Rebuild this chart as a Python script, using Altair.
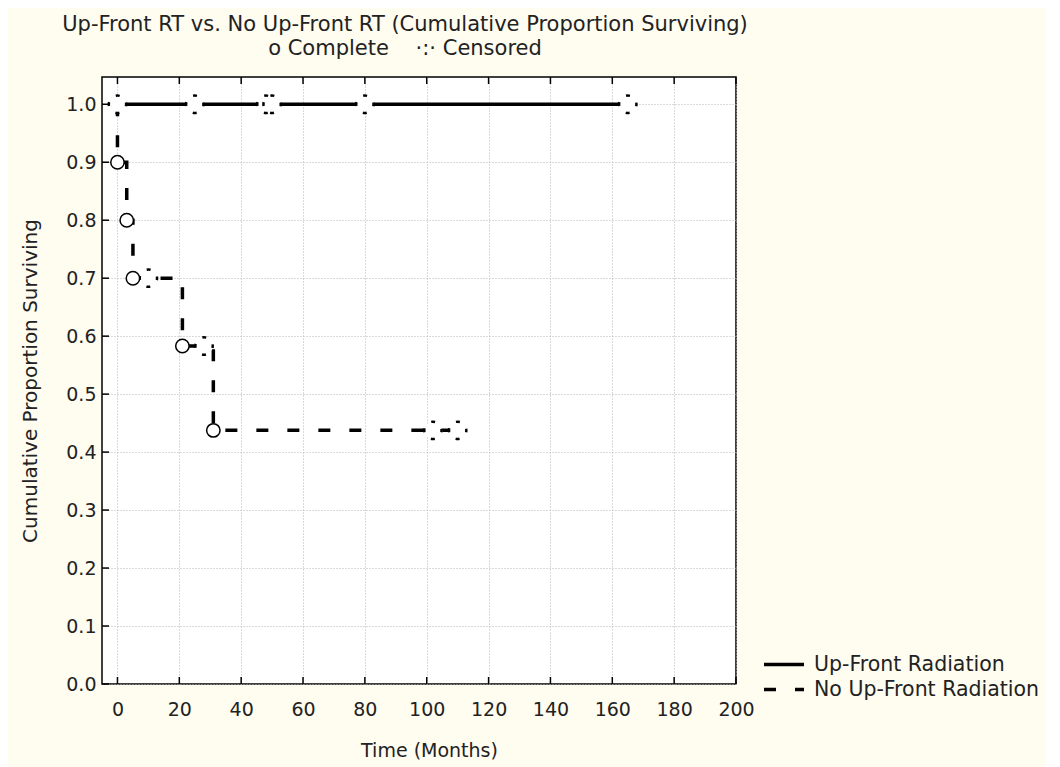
import altair as alt
import pandas as pd

# ---- data ----
series_names = ["Up-Front Radiation", "No Up-Front Radiation"]

# Kaplan-Meier step curves (step-after)
up_t = [0, 165]
up_s = [1.0, 1.0]
no_t = [0, 0, 3, 5, 21, 31, 110]
no_s = [1.0, 0.9, 0.8, 0.7, 0.583, 0.4375, 0.4375]

# complete (event) observations
comp_t = [0, 3, 5, 21, 31]
comp_s = [0.9, 0.8, 0.7, 0.583, 0.4375]

# censored observations
cens_up_t = [0, 25, 48, 50, 80, 165]
cens_up_s = [1.0, 1.0, 1.0, 1.0, 1.0, 1.0]
cens_no_t = [10, 28, 102, 110]
cens_no_s = [0.7, 0.583, 0.4375, 0.4375]

x_ticks = [0, 20, 40, 60, 80, 100, 120, 140, 160, 180, 200]
y_ticks = [0.0, 0.1, 0.2, 0.3, 0.4, 0.5, 0.6, 0.7, 0.8, 0.9, 1.0]

W, H = 634, 607
FONT = "DejaVu Sans"
FS = 19
TFS = 21
TXT = "#222222"

lines = pd.DataFrame(
    [{"t": t, "s": s, "group": series_names[0], "o": i} for i, (t, s) in enumerate(zip(up_t, up_s))]
    + [{"t": t, "s": s, "group": series_names[1], "o": i} for i, (t, s) in enumerate(zip(no_t, no_s))]
)
comp = pd.DataFrame({"t": comp_t, "s": comp_s})
cens = pd.DataFrame({"t": cens_up_t + cens_no_t, "s": cens_up_s + cens_no_s})
xt = pd.DataFrame({"t": x_ticks})
yt = pd.DataFrame({"s": y_ticks})

xs = alt.Scale(domain=[-5, 200], nice=False, zero=False)
ys = alt.Scale(domain=[0, 1.047], nice=False, zero=False)

x_axis = alt.Axis(
    values=x_ticks, title="Time (Months)", ticks=False, labelPadding=16,
    titlePadding=22, titleX=327, grid=True, domain=False, labelFlush=False,
)
y_axis = alt.Axis(
    values=y_ticks, title="Cumulative Proportion Surviving", format=".1f",
    ticks=False, labelPadding=6, titlePadding=25, titleFontSize=20,
    grid=True, domain=False, labelFlush=False,
)

X = alt.X("t:Q", scale=xs, axis=x_axis)
Y = alt.Y("s:Q", scale=ys, axis=y_axis)

line_layer = alt.Chart(lines).mark_line(
    interpolate="step-after", color="black", strokeWidth=3.5, strokeCap="butt"
).encode(
    x=X,
    y=Y,
    order="o:Q",
    strokeDash=alt.StrokeDash(
        "group:N",
        scale=alt.Scale(domain=series_names, range=[[1, 0], [12, 19]]),
        legend=alt.Legend(
            title=None, orient="none", legendX=660, legendY=576,
            symbolType="stroke", symbolSize=1600, symbolStrokeWidth=3.5,
            symbolStrokeColor="black", labelFont=FONT, labelFontSize=20.5,
            labelColor=TXT, labelOffset=8, rowPadding=2, clipHeight=23,
            labelLimit=400,
        ),
    ),
)

cens_layer = alt.Chart(cens).mark_point(
    shape="circle", filled=False, fill="white", fillOpacity=1, stroke="black",
    strokeWidth=2.5, strokeDash=[4, 9.6], strokeDashOffset=2, size=300, opacity=1,
).encode(x=X, y=Y)

comp_layer = alt.Chart(comp).mark_point(
    shape="circle", filled=False, fill="white", fillOpacity=1, stroke="black",
    strokeWidth=1.5, size=180, opacity=1,
).encode(x=X, y=Y)

xtick_bottom = alt.Chart(xt).mark_rule(color="black", strokeWidth=1.5).encode(
    x=X, y=alt.value(H), y2=alt.value(H - 7)
)
xtick_top = alt.Chart(xt).mark_rule(color="black", strokeWidth=1.5).encode(
    x=X, y=alt.value(0), y2=alt.value(7)
)
ytick_left = alt.Chart(yt).mark_rule(color="black", strokeWidth=1.5).encode(
    y=Y, x=alt.value(0), x2=alt.value(7)
)

NB = "\u00a0"
chart = alt.layer(
    line_layer, xtick_bottom, xtick_top, ytick_left, cens_layer, comp_layer
).properties(
    width=W, height=H,
    title=alt.TitleParams(
        text="Up-Front RT vs. No Up-Front RT (Cumulative Proportion Surviving)",
        subtitle="o Complete" + NB * 4 + "\u00b7:\u00b7" + NB + "Censored" + NB * 6,
        anchor="middle", dx=-14, font=FONT, fontSize=TFS, fontWeight="normal",
        color=TXT, subtitleFont=FONT, subtitleFontSize=TFS, subtitleColor=TXT,
        subtitlePadding=3, offset=17,
    ),
    autosize=alt.AutoSizeParams(type="none"),
    padding={"left": 94, "top": 69, "right": 310, "bottom": 90},
    background="#fffcf0",
).configure_view(
    stroke="black", strokeWidth=1.5, fill="white"
).configure_axis(
    labelFont=FONT, labelFontSize=FS, labelColor=TXT,
    titleFont=FONT, titleFontSize=FS, titleColor=TXT, titleFontWeight="normal",
    gridColor="#b5b5b5", gridDash=[1, 2], gridWidth=1,
)

chart.save("out.html", embed_options={"renderer": "svg", "actions": False})
